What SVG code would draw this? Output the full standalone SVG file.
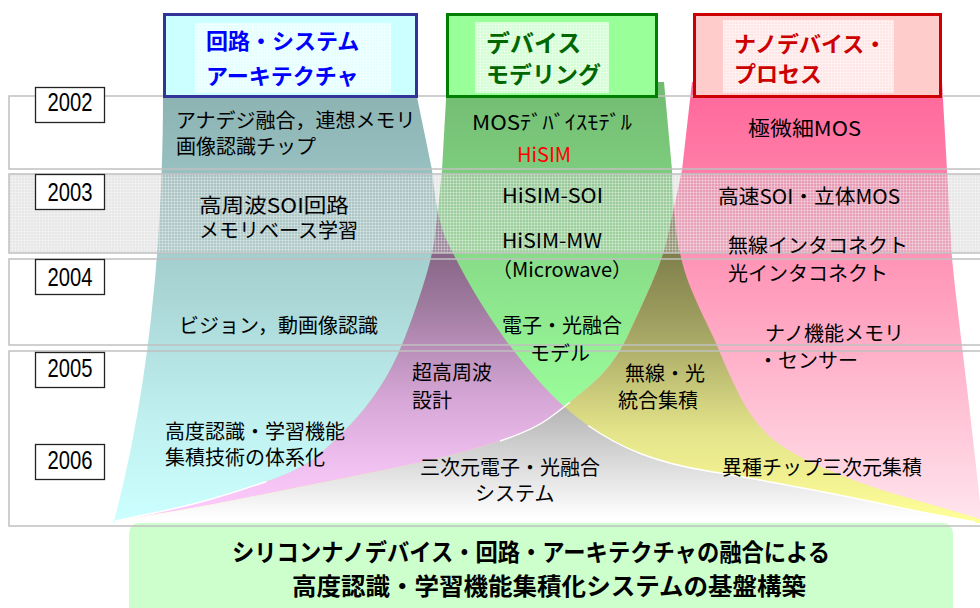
<svg xmlns="http://www.w3.org/2000/svg" width="980" height="608" viewBox="0 0 980 608">
<style>
.t{font-family:"Noto Sans CJK JP","Noto Sans",sans-serif;font-size:20px;fill:#000}
.h{font-family:"Noto Sans CJK JP","Noto Sans",sans-serif;font-weight:bold}
.frame{fill:none;stroke:#c0c0c0;stroke-width:1.5}
.yb{fill:#fff;stroke:#222;stroke-width:1.3}
.yt{font-family:"Liberation Sans",Arial,sans-serif;font-size:25px;fill:#000;text-anchor:middle}
.seam{fill:none;stroke:#fff;stroke-width:1.4}
</style>
<defs>
<path id="shapeBlue" d="M163,97 L417,97 L432,170 Q437,220 446,239 Q455,258 467.5,280.5 Q480,303 498.5,330 Q517,357 540,382.5 Q563,408 588,425.5 Q613,443 641.5,454 Q670,465 710,471.5 Q750,478 800,487.5 Q850,497 885,504.5 Q920,512 975,522 L975,523 L114,523 L114,521 C152,380 163,220 163,97 Z"/>
<path id="shapeGreen" d="M447,82 L664,82 L672,170 Q673,217 678,243.5 Q683,270 691.5,290 Q700,310 707.5,325 Q715,340 721,355 Q727,370 738.5,393.5 Q750,417 766.5,433.5 Q783,450 821.5,467 Q860,484 896.5,494.5 Q933,505 977,518 L985,522 L985,523 L115,523 L115,521 L149,514 Q183,507 208,500 Q233,493 266.5,481.5 Q300,470 316.5,456.5 Q333,443 350,425 Q367,407 380,387 Q393,367 402.5,343.5 Q412,320 422,289 Q432,258 434.5,239 Q437,220 442,170 Z"/>
<path id="shapeRed" d="M692,82 L942,82 L952,258 C958,320 972,420 982,523 L115,523 L115,521 Q133,518 166.5,512.5 Q200,507 250,497 Q300,487 350,477 Q400,467 433.5,459.5 Q467,452 500,441 Q533,430 548,419 Q563,408 588,387.5 Q613,367 626.5,338.5 Q640,310 651.5,284 Q663,258 667.5,237.5 Q672,217 682,170 Z"/>
<clipPath id="clipBlue"><use href="#shapeBlue"/></clipPath>
<clipPath id="clipGreen"><use href="#shapeGreen"/></clipPath>
<linearGradient id="gCyan" gradientUnits="userSpaceOnUse" x1="0" y1="97" x2="0" y2="523">
<stop offset="0" stop-color="#8db3b3"/><stop offset="0.48" stop-color="#abd7d7"/><stop offset="0.76" stop-color="#c0f0f0"/><stop offset="1" stop-color="#ccffff"/>
</linearGradient>
<linearGradient id="gGreen" gradientUnits="userSpaceOnUse" x1="0" y1="82" x2="0" y2="523">
<stop offset="0" stop-color="#72bb72"/><stop offset="0.4" stop-color="#88dd88"/><stop offset="0.72" stop-color="#99fb99"/><stop offset="1" stop-color="#99ff99"/>
</linearGradient>
<linearGradient id="gPurple" gradientUnits="userSpaceOnUse" x1="0" y1="220" x2="0" y2="523">
<stop offset="0" stop-color="#7a5a7a"/><stop offset="0.26" stop-color="#9c789c"/><stop offset="0.59" stop-color="#d6a6d6"/><stop offset="0.83" stop-color="#f2c2f2"/><stop offset="1" stop-color="#ffccff"/>
</linearGradient>
<linearGradient id="gPink" gradientUnits="userSpaceOnUse" x1="0" y1="82" x2="0" y2="523">
<stop offset="0" stop-color="#ff6699"/><stop offset="0.5" stop-color="#ffa0be"/><stop offset="1" stop-color="#ffe6ee"/>
</linearGradient>
<linearGradient id="gOlive" gradientUnits="userSpaceOnUse" x1="0" y1="217" x2="0" y2="523">
<stop offset="0" stop-color="#6e6e40"/><stop offset="0.37" stop-color="#a3a363"/><stop offset="0.7" stop-color="#e3e38a"/><stop offset="1" stop-color="#ffff99"/>
</linearGradient>
<linearGradient id="gGray" gradientUnits="userSpaceOnUse" x1="0" y1="408" x2="0" y2="518">
<stop offset="0" stop-color="#b5b5b5"/><stop offset="0.55" stop-color="#dedede"/><stop offset="1" stop-color="#ffffff"/>
</linearGradient>
<pattern id="stip" width="3" height="3" patternUnits="userSpaceOnUse">
<rect width="3" height="3" fill="#c4c4c4" fill-opacity="0.4"/>
<rect width="1" height="3" fill="#ffffff" fill-opacity="0.3"/>
<rect width="3" height="1" fill="#ffffff" fill-opacity="0.3"/>
</pattern>
<pattern id="wstip" width="3" height="3" patternUnits="userSpaceOnUse">
<rect width="1" height="3" fill="#ffffff" fill-opacity="0.35"/>
<rect width="3" height="1" fill="#ffffff" fill-opacity="0.35"/>
</pattern>
</defs>

<rect width="980" height="608" fill="#fff"/>

<g id="funnels">
<use href="#shapeBlue" fill="url(#gCyan)"/>
<use href="#shapeGreen" fill="url(#gGreen)"/>
<g clip-path="url(#clipBlue)"><use href="#shapeGreen" fill="url(#gPurple)"/></g>
<use href="#shapeRed" fill="url(#gPink)"/>
<g clip-path="url(#clipGreen)"><use href="#shapeRed" fill="url(#gOlive)"/></g>
<g clip-path="url(#clipBlue)"><use href="#shapeRed" fill="url(#gGray)"/></g>
<path class="seam" d="M588,425.5 Q613,443 641.5,454 Q670,465 710,471.5 Q750,478 800,487.5 Q850,497 885,504.5 Q920,512 975,522"/>
<path class="seam" d="M500,441 Q533,430 548,419 Q563,408 570,402"/>
<path class="seam" d="M115,521 L149,514 Q183,507 208,500 Q233,493 266.5,481.5"/>
</g>

<g id="banner">
<rect x="129" y="523" width="824" height="100" rx="10" fill="#ccffcc"/>
</g>

<g id="rows">
<rect x="9" y="174" width="990" height="79" fill="url(#stip)"/>
<rect class="frame" x="9" y="96" width="990" height="73"/>
<rect class="frame" x="9" y="174" width="990" height="79"/>
<rect class="frame" x="9" y="259" width="990" height="86"/>
<rect class="frame" x="9" y="351" width="990" height="175"/>
</g>

<g id="years">
<g id="y2002"><rect class="yb" x="35.5" y="87.5" width="69" height="35"/><text class="yt" x="70" y="111" textLength="45" lengthAdjust="spacingAndGlyphs">2002</text></g>
<g id="y2003"><rect class="yb" x="35.5" y="174.5" width="69" height="35"/><text class="yt" x="70" y="201" textLength="45" lengthAdjust="spacingAndGlyphs">2003</text></g>
<g id="y2004"><rect class="yb" x="35.5" y="259.5" width="69" height="35"/><text class="yt" x="70" y="286" textLength="45" lengthAdjust="spacingAndGlyphs">2004</text></g>
<g id="y2005"><rect class="yb" x="35.5" y="352.5" width="69" height="35"/><text class="yt" x="70" y="377" textLength="45" lengthAdjust="spacingAndGlyphs">2005</text></g>
<g id="y2006"><rect class="yb" x="35.5" y="444.5" width="69" height="35"/><text class="yt" x="70" y="469" textLength="45" lengthAdjust="spacingAndGlyphs">2006</text></g>
</g>

<g id="headerCircuit">
<rect x="164.5" y="14.5" width="252" height="82" fill="#ccffff" stroke="#333399" stroke-width="3"/>
<rect x="195" y="23" width="196" height="70" fill="#e4ffff"/>
<rect x="195" y="23" width="196" height="70" fill="url(#wstip)"/>
<text class="h" x="206" y="49" font-size="22" fill="#0000ff">回路・システム</text>
<text class="h" x="206" y="84" font-size="22" fill="#0000ff">アーキテクチャ</text>
</g>
<g id="headerDevice">
<rect x="447.5" y="14.5" width="209" height="82" fill="#99ff99" stroke="#008000" stroke-width="3"/>
<rect x="475" y="22" width="134" height="71" fill="#d4ffd4"/>
<rect x="475" y="22" width="134" height="71" fill="url(#wstip)"/>
<text class="h" x="486" y="52" font-size="24" fill="#006600">デバイス</text>
<text class="h" x="486" y="83" font-size="23" fill="#006600">モデリング</text>
</g>
<g id="headerProcess">
<rect x="694.5" y="14.5" width="246" height="82" fill="#ffcccc" stroke="#cc0000" stroke-width="3"/>
<rect x="723" y="20" width="171" height="73" fill="#ffe6e6"/>
<rect x="723" y="20" width="171" height="73" fill="url(#wstip)"/>
<text class="h" x="734" y="52" font-size="22" fill="#cc0000">ナノデバイス・</text>
<text class="h" x="734" y="82" font-size="22" fill="#cc0000">プロセス</text>
</g>

<g id="circuitItems">
<text class="t" x="176" y="128">アナデジ融合，連想メモリ</text>
<text class="t" x="176" y="154">画像認識チップ</text>
<text class="t" x="199" y="213" textLength="150" lengthAdjust="spacingAndGlyphs">高周波SOI回路</text>
<text class="t" x="199" y="238">メモリベース学習</text>
<text class="t" x="179" y="333">ビジョン，動画像認識</text>
<text class="t" x="165" y="439" font-size="21">高度認識・学習機能</text>
<text class="t" x="165" y="465" font-size="21">集積技術の体系化</text>
</g>
<g id="deviceItems">
<text class="t" x="472" y="130" font-size="18" textLength="160" lengthAdjust="spacingAndGlyphs">MOSﾃﾞﾊﾞｲｽﾓﾃﾞﾙ</text>
<text class="t" x="517" y="162" font-size="19" style="fill:#ff0000">HiSIM</text>
<text class="t" x="502" y="203" font-size="19" textLength="101" lengthAdjust="spacingAndGlyphs">HiSIM-SOI</text>
<text class="t" x="502" y="248" font-size="19" textLength="100" lengthAdjust="spacingAndGlyphs">HiSIM-MW</text>
<text class="t" x="492" y="277" font-size="19">（Microwave）</text>
<text class="t" x="502" y="333">電子・光融合</text>
<text class="t" x="530" y="361">モデル</text>
</g>
<g id="processItems">
<text class="t" x="748" y="136" textLength="113" lengthAdjust="spacingAndGlyphs">極微細MOS</text>
<text class="t" x="718" y="204" textLength="182" lengthAdjust="spacingAndGlyphs">高速SOI・立体MOS</text>
<text class="t" x="728" y="253">無線インタコネクト</text>
<text class="t" x="728" y="281">光インタコネクト</text>
<text class="t" x="765" y="341">ナノ機能メモリ</text>
<text class="t" x="758" y="368">・センサー</text>
</g>
<g id="fusionItems">
<text class="t" x="412" y="380">超高周波</text>
<text class="t" x="412" y="408">設計</text>
<text class="t" x="625" y="381">無線・光</text>
<text class="t" x="618" y="408">統合集積</text>
<text class="t" x="420" y="475">三次元電子・光融合</text>
<text class="t" x="475" y="501">システム</text>
<text class="t" x="722" y="475">異種チップ三次元集積</text>
</g>

<g id="goal">
<text class="h" x="232" y="561" font-size="24" textLength="598" lengthAdjust="spacingAndGlyphs">シリコンナノデバイス・回路・アーキテクチャの融合による</text>
<text class="h" x="292" y="595" font-size="24" textLength="514" lengthAdjust="spacingAndGlyphs">高度認識・学習機能集積化システムの基盤構築</text>
</g>
</svg>
